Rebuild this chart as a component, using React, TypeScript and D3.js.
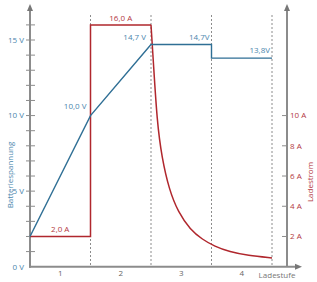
import React, { useMemo } from 'react';
import * as d3 from 'd3';

const W = 317;
const H = 282;

// stages on the x axis
const stages = ['1', '2', '3', '4'];
const stageBounds = [1, 2, 3, 4];

// battery voltage (V) per stage position
const voltageX = [0, 1, 2, 3, 3, 4];
const voltage = [2.0, 10.0, 14.7, 14.7, 13.8, 13.8];

// charge current (A), constant part
const currentStepX = [0, 1, 1, 2];
const currentStep = [2.0, 2.0, 16.0, 16.0];

// charge current (A), decay in stages 3-4
const decayX = [2.0, 2.04, 2.1, 2.18, 2.3, 2.45, 2.65, 2.85, 3.05, 3.3, 3.6, 4.0];
const decay = [16.0, 13.5, 9.6, 7.2, 5.1, 3.6, 2.45, 1.8, 1.35, 0.98, 0.74, 0.58];

const voltTicks = d3.range(1, 17);
const voltLabels = [0, 5, 10, 15];
const ampTicks = [2, 4, 6, 8, 10];

const BLUE = '#2f6f95';
const BLUE_TXT = '#4a86ad';
const RED = '#b0272d';
const RED_TXT = '#b3393f';
const GRAY = '#8c8c8c';
const FONT = '"Open Sans", "DejaVu Sans", sans-serif';

const App: React.FC = () => {
  const x = useMemo(() => d3.scaleLinear().domain([0, 4]).range([30, 272]), []);
  const y = useMemo(() => d3.scaleLinear().domain([0, 16]).range([266.7, 24.9]), []);

  const line = d3.line<[number, number]>().x(d => x(d[0])).y(d => y(d[1]));
  const curve = d3.line<[number, number]>().x(d => x(d[0])).y(d => y(d[1])).curve(d3.curveBasis);

  const vPts = voltageX.map((v, i) => [v, voltage[i]] as [number, number]);
  const sPts = currentStepX.map((v, i) => [v, currentStep[i]] as [number, number]);
  const dPts = decayX.map((v, i) => [v, decay[i]] as [number, number]);

  const axisR = 287;
  const y0 = y(0);

  return (
    <svg width={W} height={H} style={{ position: 'absolute', left: 0, top: 0, background: '#fff' }} fontFamily={FONT}>
      {/* stage separators */}
      {stageBounds.map(s => (
        <line key={s} x1={x(s)} x2={x(s)} y1={15} y2={y0} stroke={GRAY} strokeWidth={1} strokeDasharray="2,2" />
      ))}

      {/* left axis */}
      <line x1={x(0)} x2={x(0)} y1={10} y2={y0 + 1} stroke={GRAY} strokeWidth={2} />
      <path d={`M${x(0)},4 L${x(0) - 3},11 L${x(0) + 3},11 Z`} fill="#777" />
      {voltTicks.map(t => (
        <line key={t} x1={x(0) - 4} x2={x(0) + 5} y1={y(t)} y2={y(t)} stroke={GRAY} strokeWidth={1} />
      ))}
      {voltLabels.map(t => (
        <text key={t} x={x(0) - 6} y={y(t)} dy="0.35em" textAnchor="end" fontSize={8} fill={BLUE_TXT}>{`${t} V`}</text>
      ))}
      <text transform={`translate(13,175) rotate(-90)`} textAnchor="middle" fontSize={8} fill={BLUE_TXT}>Batteriespannung</text>

      {/* right axis */}
      <line x1={axisR} x2={axisR} y1={10} y2={y0} stroke={GRAY} strokeWidth={2} />
      <path d={`M${axisR},4 L${axisR - 3},11 L${axisR + 3},11 Z`} fill="#777" />
      {ampTicks.map(t => (
        <g key={t}>
          <line x1={axisR - 5} x2={axisR} y1={y(t)} y2={y(t)} stroke={GRAY} strokeWidth={1} />
          <text x={axisR + 3} y={y(t)} dy="0.35em" fontSize={8} fill={RED_TXT}>{`${t} A`}</text>
        </g>
      ))}
      <text transform={`translate(313,182) rotate(-90)`} textAnchor="middle" fontSize={8} fill={RED_TXT}>Ladestrom</text>

      {/* x axis */}
      <line x1={x(0) - 1} x2={296} y1={y0} y2={y0} stroke={GRAY} strokeWidth={2} />
      <path d={`M302,${y0} L295,${y0 - 3} L295,${y0 + 3} Z`} fill="#777" />
      {stages.map((s, i) => (
        <text key={s} x={x(i + 0.5)} y={276} textAnchor="middle" fontSize={8} fill="#666">{s}</text>
      ))}
      <text x={277} y={278} textAnchor="middle" fontSize={8} fill="#777">Ladestufe</text>

      {/* current */}
      <path d={line(sPts) ?? ''} fill="none" stroke={RED} strokeWidth={1.5} />
      <path d={curve(dPts) ?? ''} fill="none" stroke={RED} strokeWidth={1.5} />

      {/* voltage */}
      <path d={line(vPts) ?? ''} fill="none" stroke={BLUE} strokeWidth={1.4} />

      {/* value labels */}
      <text x={x(1.5)} y={y(16) - 4} textAnchor="middle" fontSize={8} fill={RED_TXT}>16,0 A</text>
      <text x={x(0.5)} y={y(2) - 4} textAnchor="middle" fontSize={8} fill={RED_TXT}>2,0 A</text>
      <text x={x(1) - 4} y={y(10) - 7} textAnchor="end" fontSize={8} fill={BLUE_TXT}>10,0 V</text>
      <text x={x(2) - 5} y={y(14.7) - 5} textAnchor="end" fontSize={8} fill={BLUE_TXT}>14,7 V</text>
      <text x={x(3) - 2} y={y(14.7) - 5} textAnchor="end" fontSize={8} fill={BLUE_TXT}>14,7V</text>
      <text x={x(4) - 2} y={y(13.8) - 5} textAnchor="end" fontSize={8} fill={BLUE_TXT}>13,8V</text>
    </svg>
  );
};

export default App;
